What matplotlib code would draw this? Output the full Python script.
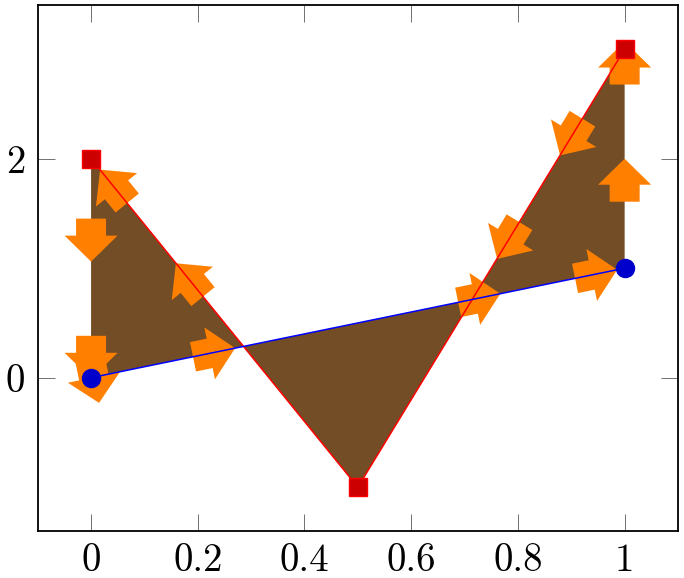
import numpy as np
import matplotlib
matplotlib.use("Agg")
import matplotlib.pyplot as plt
from matplotlib.patches import Polygon

plt.rcParams['font.family'] = 'serif'
plt.rcParams['font.serif'] = ['cmr10']
plt.rcParams['axes.formatter.use_mathtext'] = True

# data
blue_x = [0, 1]
blue_y = [0, 1]
red_x = [0, 0.5, 1]
red_y = [2, -1, 3]

xticks = [0, 0.2, 0.4, 0.6, 0.8, 1]
xtick_labels = ['0', '0.2', '0.4', '0.6', '0.8', '1']
yticks = [0, 2]
ytick_labels = ['0', '2']

# arrow decorations: tip position and pointing direction (data units)
arrow_x = [0.015, 0.27, 0.767, 0.986, 1, 1, 0.879, 0.761, 0.159, 0.017, 0, 0]
arrow_y = [-0.23, 0.27, 0.767, 0.986, 2.0, 3.07, 2.03, 1.085, 1.045, 1.90, 1.06, -0.01]
arrow_dx = [0.042, 1, 1, 1, 0, 0, -0.5, -0.5, -0.5, -0.5, 0, 0]
arrow_dy = [-1, 1, 1, 1, 1, 1, -4, -4, 3, 3, -1, -1]

fig = plt.figure(figsize=(6.84, 5.78), dpi=100)
ax = fig.add_axes([37.7/684, 47/578, (678-37.7)/684, (531-5.4)/578])
ax.set_xlim(-0.1, 1.1)
ax.set_ylim(-1.4, 3.4)

# fill between the two lines
ax.fill(np.r_[blue_x, red_x[::-1]], np.r_[blue_y, red_y[::-1]],
        color='#734D26', lw=0, zorder=1)

# arrows (shape built in pixels, then put back in data coords)
L, hl, hw, tw = 43, 26, 26.5, 15
inv = ax.transData.inverted()
for x, y, dx, dy in zip(arrow_x, arrow_y, arrow_dx, arrow_dy):
    p0 = ax.transData.transform((x, y))
    p1 = ax.transData.transform((x + dx*0.01, y + dy*0.01))
    u = (p1 - p0) / np.hypot(*(p1 - p0))
    n = np.array([-u[1], u[0]])
    pts = [p0,
           p0 - hl*u + hw*n, p0 - hl*u + tw*n,
           p0 - L*u + tw*n, p0 - L*u - tw*n,
           p0 - hl*u - tw*n, p0 - hl*u - hw*n]
    ax.add_patch(Polygon(inv.transform(np.array(pts)), closed=True,
                         facecolor='#FF8000', edgecolor='none', zorder=2))

ax.plot(red_x, red_y, color='red', lw=1.1, marker='s', markersize=13,
        markerfacecolor='#CC0000', markeredgecolor='red', zorder=3)
ax.plot(blue_x, blue_y, color='blue', lw=1.1, marker='o', markersize=13,
        markerfacecolor='#0000CC', markeredgecolor='#0000CC', zorder=3)

ax.set_xticks(xticks)
ax.set_xticklabels(xtick_labels)
ax.set_yticks(yticks)
ax.set_yticklabels(ytick_labels)
ax.tick_params(direction='in', length=12, width=0.7, color='#707070',
               top=True, right=True, labelsize=28, pad=9)
for s in ax.spines.values():
    s.set_linewidth(1.3)

fig.savefig('out.png', dpi=100)
